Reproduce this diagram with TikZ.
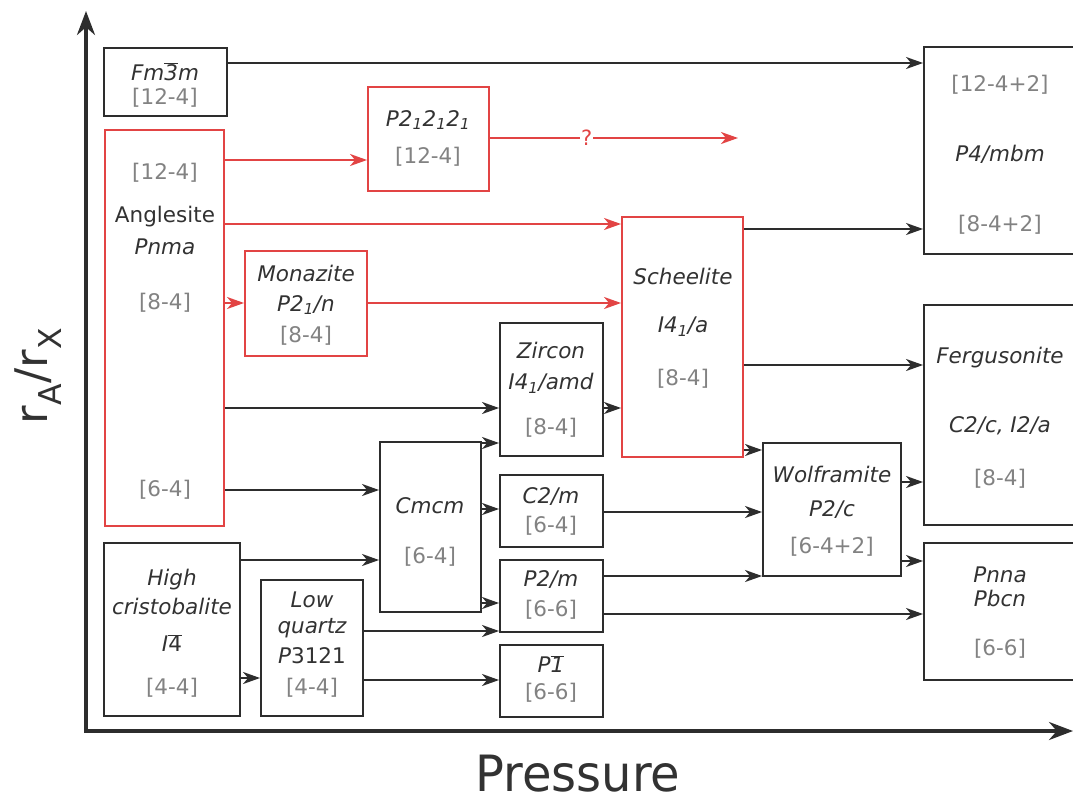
\documentclass[tikz,border=0pt]{standalone}
\usepackage{fontspec}
\setmainfont{DejaVu Sans}
\usetikzlibrary{arrows.meta,fit}
\definecolor{redc}{RGB}{226,68,68}
\definecolor{linec}{RGB}{45,45,45}
\definecolor{namec}{RGB}{50,50,50}
\definecolor{brc}{RGB}{130,130,130}
\newcommand{\ovl}[1]{\ensuremath{\overline{\hbox{#1}}}}
\begin{document}
\begin{tikzpicture}[x=1pt,y=-1pt,
 bbox/.style={draw=linec, line width=1.9pt, inner sep=0pt},
 rbox/.style={draw=redc, line width=1.9pt, inner sep=0pt},
 nm/.style={inner sep=0pt, text=namec, font=\fontsize{21.5}{25}\selectfont\itshape},
 nu/.style={inner sep=0pt, text=namec, font=\fontsize{21.5}{25}\selectfont},
 br/.style={inner sep=0pt, text=brc, font=\fontsize{21.5}{25}\selectfont},
 arr/.style={draw=linec, line width=1.9pt, -{Stealth[length=17pt,width=12pt,inset=5pt]}},
 rarr/.style={draw=redc, line width=1.9pt, -{Stealth[length=17pt,width=12pt,inset=5pt]}},
 axis/.style={draw=linec, line width=3.5pt, {Stealth[length=24pt,width=18pt]}-{Stealth[length=24pt,width=18pt]}}
]
\useasboundingbox (0,0) rectangle (1073,801);
\clip (0,0) rectangle (1073,801);

% boxes
\node[bbox, fit={(104,48) (227,116)}] (fm) {};
\node[rbox, fit={(105,130) (224,526)}] (ang) {};
\node[rbox, fit={(368,87) (489,191)}] (p21) {};
\node[rbox, fit={(245,251) (367,356)}] (mon) {};
\node[rbox, fit={(622,217) (743,457)}] (sch) {};
\node[bbox, fit={(500,323) (603,456)}] (zir) {};
\node[bbox, fit={(380,442) (481,612)}] (cmcm) {};
\node[bbox, fit={(500,475) (603,547)}] (c2m) {};
\node[bbox, fit={(500,560) (603,632)}] (p2m) {};
\node[bbox, fit={(500,645) (603,717)}] (p1) {};
\node[bbox, fit={(104,543) (240,716)}] (hc) {};
\node[bbox, fit={(261,580) (363,716)}] (lq) {};
\node[bbox, fit={(763,443) (901,576)}] (wolf) {};
\node[bbox, fit={(924,47) (1076,254)}] (p4) {};
\node[bbox, fit={(924,305) (1076,525)}] (ferg) {};
\node[bbox, fit={(924,543) (1076,680)}] (pnna) {};

% texts
\node[nm] (fm1) at (165,72) {Fm\ovl{3}m};
\node[br] (fm2) at (165,98) {[12-4]};
\node[br] (ang1) at (165,173) {[12-4]};
\node[nu] (ang2) at (165,217) {Anglesite};
\node[nm] (ang3) at (165,247) {Pnma};
\node[br] (ang4) at (165,303) {[8-4]};
\node[br] (ang5) at (165,490) {[6-4]};
\node[nm] (p211) at (428,120) {P2\textsubscript{1}2\textsubscript{1}2\textsubscript{1}};
\node[br] (p212) at (428,157) {[12-4]};
\node[nm] (mon1) at (306,273) {Monazite};
\node[nm] (mon2) at (306,305) {P2\textsubscript{1}/n};
\node[br] (mon3) at (306,336) {[8-4]};
\node[nm] (sch1) at (683,276) {Scheelite};
\node[nm] (sch2) at (683,327) {I4\textsubscript{1}/a};
\node[br] (sch3) at (683,379) {[8-4]};
\node[nm] (zir1) at (551,350) {Zircon};
\node[nm] (zir2) at (551,383) {I4\textsubscript{1}/amd};
\node[br] (zir3) at (551,428) {[8-4]};
\node[nm] (cm1) at (430,506) {Cmcm};
\node[br] (cm2) at (430,557) {[6-4]};
\node[nm] (c2m1) at (551,497) {C2/m};
\node[br] (c2m2) at (551,526) {[6-4]};
\node[nm] (p2m1) at (551,580) {P2/m};
\node[br] (p2m2) at (551,610) {[6-6]};
\node[nm] (p11) at (551,664) {P\ovl{1}};
\node[br] (p12) at (551,693) {[6-6]};
\node[nm] (hc1) at (172,580) {High};
\node[nm] (hc2) at (172,606) {cristobalite};
\node[nm] (hc3) at (172,643) {I\ovl{\upshape 4}};
\node[br] (hc4) at (172,688) {[4-4]};
\node[nm] (lq1) at (312,600) {Low};
\node[nm] (lq2) at (312,628) {quartz};
\node[nm] (lq3) at (312,656) {P\upshape 3121};
\node[br] (lq4) at (312,688) {[4-4]};
\node[nm] (wo1) at (832,474) {Wolframite};
\node[nm] (wo2) at (832,510) {P2/c};
\node[br] (wo3) at (832,547) {[6-4+2]};
\node[br] (p41) at (1000,85) {[12-4+2]};
\node[nm] (p42) at (1000,154) {P4/mbm};
\node[br] (p43) at (1000,225) {[8-4+2]};
\node[nm] (fe1) at (1000,358) {Fergusonite};
\node[nm] (fe2) at (1000,426) {C2/c, I2/a};
\node[br] (fe3) at (1000,479) {[8-4]};
\node[nm] (pn1) at (1000,575) {Pnna};
\node[nm] (pn2) at (1000,598) {Pbcn};
\node[br] (pn3) at (1000,649) {[6-6]};

% connectors
\coordinate (qend) at (738,138);
\draw[arr] (fm.east |- 0,63) -- (p4.west |- 0,63);
\draw[rarr] (ang.east |- 0,160) -- (p21.west |- 0,160);
\draw[rarr] (p21.east |- 0,138) -- node[pos=0.39, fill=white, inner sep=1pt, text=redc, font=\fontsize{21}{24}\selectfont] (qm) {?} (qend);
\draw[rarr] (ang.east |- 0,224) -- (sch.west |- 0,224);
\draw[arr] (sch.east |- 0,229) -- (p4.west |- 0,229);
\draw[rarr] (ang.east |- 0,303) -- (mon.west |- 0,303);
\draw[rarr] (mon.east |- 0,303) -- (sch.west |- 0,303);
\draw[arr] (ang.east |- 0,408) -- (zir.west |- 0,408);
\draw[arr] (zir.east |- 0,408) -- (sch.west |- 0,408);
\draw[arr] (sch.east |- 0,365) -- (ferg.west |- 0,365);
\draw[arr] (sch.east |- 0,450) -- (wolf.west |- 0,450);
\draw[arr] (ang.east |- 0,490) -- (cmcm.west |- 0,490);
\draw[arr] (hc.east |- 0,560) -- (cmcm.west |- 0,560);
\draw[arr] (cmcm.east |- 0,443) -- (zir.west |- 0,443);
\draw[arr] (cmcm.east |- 0,509) -- (c2m.west |- 0,509);
\draw[arr] (cmcm.east |- 0,603) -- (p2m.west |- 0,603);
\draw[arr] (lq.east |- 0,631) -- (p2m.west |- 0,631);
\draw[arr] (lq.east |- 0,680) -- (p1.west |- 0,680);
\draw[arr] (hc.east |- 0,678) -- (lq.west |- 0,678);
\draw[arr] (c2m.east |- 0,512) -- (wolf.west |- 0,512);
\draw[arr] (p2m.east |- 0,576) -- (wolf.west |- 0,576);
\draw[arr] (p2m.east |- 0,614) -- (pnna.west |- 0,614);
\draw[arr] (wolf.east |- 0,482) -- (ferg.west |- 0,482);
\draw[arr] (wolf.east |- 0,561) -- (pnna.west |- 0,561);

% axes
\coordinate (ytop) at (86,11);
\coordinate (origin) at (86,731);
\coordinate (xend) at (1073,731);
\draw[axis] (ytop) -- (origin) -- (xend);
\node[rotate=90, anchor=base, inner sep=0pt, text=namec, font=\fontsize{45}{50}\selectfont] (ylab) at (47,376) {r\textsubscript{A}/r\textsubscript{X}};
\node[anchor=base, inner sep=0pt, text=namec, font=\fontsize{50}{54}\selectfont] (xlab) at (578,791) {\scalebox{0.96}[1]{Pressure}};
\end{tikzpicture}
\end{document}
